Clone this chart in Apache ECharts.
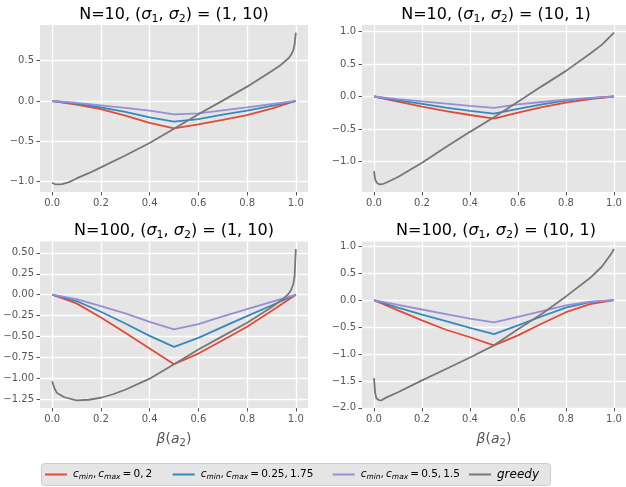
<!DOCTYPE html>
<html>
<head>
<meta charset="utf-8">
<title>beta(a2) curves</title>
<script src="https://cdn.jsdelivr.net/npm/echarts@6/dist/echarts.min.js"></script>
<style>html,body{margin:0;padding:0;overflow:hidden;background:#fff;}</style>
</head>
<body>
<div id="main" style="width:626px;height:487px;"></div>
<script>
// legend names and colours (ggplot style)
var seriesNames = ['c1', 'c2', 'c3', 'greedy'];
var colors = ['#E24A33', '#348ABD', '#988ED5', '#777777'];

// x positions of the c_min/c_max curves
var betaX = [0, 0.1, 0.2, 0.3, 0.4, 0.5, 0.6, 0.7, 0.8, 0.9, 1.0];

// N=10, (1,10)
var tlRed    = [0, -0.045, -0.10, -0.18, -0.27, -0.34, -0.29, -0.235, -0.174, -0.095, 0];
var tlBlue   = [0, -0.033, -0.078, -0.135, -0.202, -0.255, -0.224, -0.17, -0.12, -0.06, 0];
var tlPurple = [0, -0.022, -0.053, -0.085, -0.12, -0.165, -0.153, -0.115, -0.079, -0.04, 0];
var tlGreedyX = [0, 0.01, 0.02, 0.04, 0.07, 0.1, 0.15, 0.2, 0.3, 0.4, 0.5, 0.6, 0.7, 0.8, 0.9, 0.94, 0.97, 0.98, 0.99, 0.995, 1.0];
var tlGreedyY = [-1.013, -1.03, -1.034, -1.03, -1.005, -0.96, -0.895, -0.823, -0.675, -0.52, -0.345, -0.165, 0.005, 0.178, 0.37, 0.45, 0.53, 0.57, 0.63, 0.7, 0.848];

// N=10, (10,1)
var trRed    = [0, -0.08, -0.155, -0.225, -0.285, -0.34, -0.25, -0.165, -0.095, -0.04, 0];
var trBlue   = [0, -0.06, -0.115, -0.17, -0.22, -0.263, -0.19, -0.12, -0.065, -0.025, 0];
var trPurple = [0, -0.04, -0.075, -0.11, -0.145, -0.175, -0.12, -0.085, -0.05, -0.02, 0];
var trGreedyX = [0, 0.005, 0.012, 0.023, 0.035, 0.05, 0.1, 0.2, 0.3, 0.4, 0.5, 0.6, 0.7, 0.8, 0.9, 0.95, 1.0];
var trGreedyY = [-1.15, -1.28, -1.33, -1.355, -1.352, -1.33, -1.24, -1.02, -0.78, -0.545, -0.32, -0.08, 0.16, 0.395, 0.66, 0.8, 0.985];

// N=100, (1,10)
var blRed    = [0, -0.104, -0.272, -0.456, -0.644, -0.832, -0.704, -0.545, -0.384, -0.195, 0];
var blBlue   = [0, -0.076, -0.204, -0.344, -0.492, -0.624, -0.516, -0.385, -0.256, -0.13, 0];
var blPurple = [0, -0.052, -0.136, -0.224, -0.324, -0.416, -0.352, -0.26, -0.172, -0.085, 0];
var blGreedyX = [0, 0.01, 0.02, 0.05, 0.1, 0.15, 0.2, 0.25, 0.3, 0.4, 0.5, 0.6, 0.7, 0.8, 0.9, 0.95, 0.97, 0.98, 0.99, 0.995, 1.0];
var blGreedyY = [-1.036, -1.124, -1.176, -1.226, -1.264, -1.256, -1.232, -1.19, -1.136, -1.004, -0.832, -0.656, -0.495, -0.336, -0.15, -0.045, 0.01, 0.05, 0.13, 0.22, 0.545];

// N=100, (10,1)
var brRed    = [0, -0.19, -0.378, -0.551, -0.69, -0.84, -0.655, -0.435, -0.225, -0.075, 0];
var brBlue   = [0, -0.14, -0.27, -0.39, -0.515, -0.632, -0.47, -0.3, -0.14, -0.04, 0];
var brPurple = [0, -0.09, -0.175, -0.26, -0.345, -0.415, -0.31, -0.207, -0.1, -0.03, 0];
var brGreedyX = [0, 0.005, 0.01, 0.02, 0.03, 0.05, 0.1, 0.2, 0.3, 0.4, 0.5, 0.6, 0.7, 0.8, 0.9, 0.95, 0.99, 1.0];
var brGreedyY = [-1.447, -1.73, -1.82, -1.855, -1.862, -1.81, -1.71, -1.49, -1.28, -1.065, -0.84, -0.54, -0.254, 0.068, 0.408, 0.623, 0.87, 0.946];

// tick labels
var xTicks = [0, 0.2, 0.4, 0.6, 0.8, 1.0];
var yTicksTL = [-1.0, -0.5, 0, 0.5];
var yTicksTR = [-1.0, -0.5, 0, 0.5, 1.0];
var yTicksBL = [-1.25, -1.0, -0.75, -0.5, -0.25, 0, 0.25, 0.5];
var yTicksBR = [-2.0, -1.5, -1.0, -0.5, 0, 0.5, 1.0];

var titles = [
    'N=10, ({i|σ}{sub|1}, {i|σ}{sub|2}) = (1, 10)',
    'N=10, ({i|σ}{sub|1}, {i|σ}{sub|2}) = (10, 1)',
    'N=100, ({i|σ}{sub|1}, {i|σ}{sub|2}) = (1, 10)',
    'N=100, ({i|σ}{sub|1}, {i|σ}{sub|2}) = (10, 1)'
];

var panels = [
    {red: tlRed, blue: tlBlue, purple: tlPurple, gx: tlGreedyX, gy: tlGreedyY, yTicks: yTicksTL, dec: 1},
    {red: trRed, blue: trBlue, purple: trPurple, gx: trGreedyX, gy: trGreedyY, yTicks: yTicksTR, dec: 1},
    {red: blRed, blue: blBlue, purple: blPurple, gx: blGreedyX, gy: blGreedyY, yTicks: yTicksBL, dec: 2},
    {red: brRed, blue: brBlue, purple: brPurple, gx: brGreedyX, gy: brGreedyY, yTicks: yTicksBR, dec: 1}
];

var FONT = 'DejaVu Sans';
var layout = [
    {left: 40, top: 25, width: 268, height: 167, cx: 174},
    {left: 362, top: 25, width: 268, height: 167, cx: 496},
    {left: 40, top: 241.5, width: 268, height: 166.5, cx: 174},
    {left: 362, top: 241.5, width: 268, height: 166.5, cx: 496}
];
var titleTops = [4.5, 4.5, 220.5, 220.5];

function pairs(xs, ys) {
    return xs.map(function (x, i) { return [x, ys[i]]; });
}
function fmt(dec) {
    return function (v) { return v.toFixed(dec).replace('-', '\u2212'); };
}

var grids = [], xAxes = [], yAxes = [], series = [], titleOpts = [];
panels.forEach(function (p, k) {
    var L = layout[k];
    grids.push({left: L.left, top: L.top, width: L.width, height: L.height,
        show: true, backgroundColor: '#E5E5E5', borderWidth: 0});
    var all = p.red.concat(p.blue, p.purple, p.gy);
    var lo = Math.min.apply(null, all), hi = Math.max.apply(null, all);
    var pad = (hi - lo) * 0.05;
    var axisCommon = {
        axisLine: {show: false, onZero: false},
        axisTick: {show: true, length: 3.5, lineStyle: {color: '#555555', width: 1}},
        splitLine: {show: true, lineStyle: {color: '#FFFFFF', width: 1.3}},
        axisLabel: {color: '#555555', fontFamily: FONT, fontSize: 10, margin: 6}
    };
    xAxes.push(echarts.util.merge({
        type: 'value', gridIndex: k, min: -0.05, max: 1.05,
        axisTick: {customValues: xTicks},
        axisLabel: {customValues: xTicks, formatter: fmt(1)},
        name: k >= 2 ? '{i|β}({i|a}{sub|2})' : '',
        nameLocation: 'middle', nameGap: 22,
        nameTextStyle: {color: '#555555', fontFamily: FONT, fontSize: 14, lineHeight: 18,
            rich: {i: {fontStyle: 'italic', fontSize: 14, lineHeight: 18, color: '#555555', fontFamily: FONT},
                   sub: {fontSize: 10, lineHeight: 10, verticalAlign: 'bottom', color: '#555555', fontFamily: FONT}}}
    }, axisCommon, false));
    yAxes.push(echarts.util.merge({
        type: 'value', gridIndex: k, min: lo - pad, max: hi + pad,
        axisTick: {customValues: p.yTicks},
        axisLabel: {customValues: p.yTicks, formatter: fmt(p.dec)}
    }, axisCommon, false));
    titleOpts.push({
        text: titles[k], left: L.cx, top: titleTops[k], textAlign: 'center', padding: 0,
        textStyle: {color: '#000', fontFamily: FONT, fontSize: 16, fontWeight: 'normal', lineHeight: 20,
            rich: {i: {fontStyle: 'italic', fontSize: 16, lineHeight: 20, fontFamily: FONT, color: '#000'},
                   sub: {fontSize: 11, lineHeight: 12, verticalAlign: 'bottom', fontFamily: FONT, color: '#000'}}}
    });
    var ys = [p.red, p.blue, p.purple];
    ys.forEach(function (arr, j) {
        series.push({
            name: seriesNames[j], type: 'line', xAxisIndex: k, yAxisIndex: k,
            data: pairs(betaX, arr), symbol: 'none', silent: true,
            lineStyle: {color: colors[j], width: 1.8}, itemStyle: {color: colors[j]}
        });
    });
    series.push({
        name: seriesNames[3], type: 'line', xAxisIndex: k, yAxisIndex: k,
        data: pairs(p.gx, p.gy), symbol: 'none', silent: true,
        lineStyle: {color: colors[3], width: 1.8}, itemStyle: {color: colors[3]}
    });
});

var legendLabels = {
    c1: '{i|c}{s|min},\u2009{i|c}{s|max}\u2009=\u20090,\u20092',
    c2: '{i|c}{s|min},\u2009{i|c}{s|max}\u2009=\u20090.25,\u20091.75',
    c3: '{i|c}{s|min},\u2009{i|c}{s|max}\u2009=\u20090.5,\u20091.5',
    greedy: '{g|greedy}'
};
var legendLefts = [45, 172.7, 332.7, 469];
var legendRich = {
    i: {fontStyle: 'italic', fontSize: 10.5, lineHeight: 14, fontFamily: FONT, color: '#000'},
    s: {fontStyle: 'italic', fontSize: 7.5, lineHeight: 8, verticalAlign: 'bottom', fontFamily: FONT, color: '#000'},
    g: {fontStyle: 'italic', fontSize: 12, lineHeight: 14, fontFamily: FONT, color: '#000'}
};
var legends = seriesNames.map(function (n, j) {
    return {
        data: [n], left: legendLefts[j], top: 467.5, padding: 0,
        icon: 'rect', itemWidth: 22, itemHeight: 2, selectedMode: false,
        formatter: function (name) { return legendLabels[name]; },
        textStyle: {color: '#000', fontFamily: FONT, fontSize: 10.5, lineHeight: 14, padding: [0, 0, 0, 1], rich: legendRich}
    };
});

var myChart = echarts.init(document.getElementById('main'));
var option = {
    animation: false,
    title: titleOpts,
    grid: grids,
    xAxis: xAxes,
    yAxis: yAxes,
    legend: legends,
    graphic: [{
        type: 'rect', z: 0, silent: true,
        shape: {x: 41.5, y: 463.5, width: 509, height: 22, r: 3},
        style: {fill: '#E5E5E5', stroke: '#CCCCCC', lineWidth: 1}
    }],
    series: series
};
myChart.setOption(option);
</script>
</body>
</html>
